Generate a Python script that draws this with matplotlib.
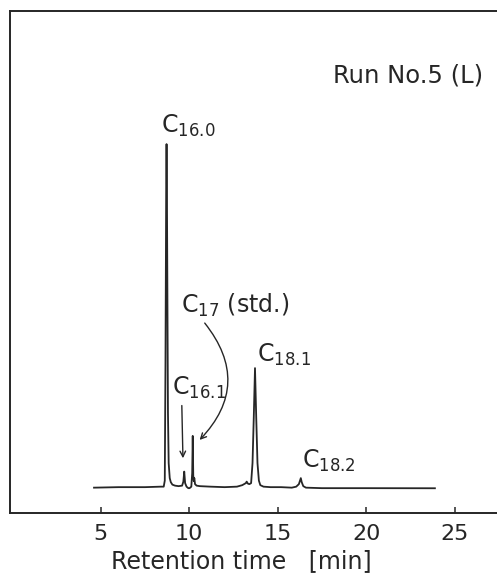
import matplotlib
matplotlib.use("Agg")
import matplotlib.pyplot as plt

# chromatogram trace (time in min, detector signal in arbitrary units)
ret_time = [4.62, 6.0, 7.5, 8.40, 8.56, 8.62, 8.66, 8.70, 8.72, 8.74, 8.77, 8.80, 8.84,
            8.90, 8.96, 9.05, 9.20, 9.40, 9.60, 9.67, 9.72, 9.77, 9.85, 9.95, 10.02,
            10.12, 10.17, 10.20, 10.23, 10.26, 10.29, 10.33, 10.42, 10.6, 11.2, 12.0,
            12.7, 13.0, 13.20, 13.25, 13.32, 13.40, 13.50, 13.58, 13.65, 13.72, 13.79,
            13.86, 13.94, 14.02, 14.20, 14.6, 15.2, 15.8, 16.05, 16.20, 16.31, 16.36,
            16.45, 16.6, 17.5, 20.0, 23.89]
signal = [5.1, 5.2, 5.2, 5.3, 5.3, 6.5, 30.0, 65.0, 73.5, 65.0, 42.0, 20.0, 10.0,
          7.0, 6.2, 5.7, 5.5, 5.4, 5.5, 6.3, 8.3, 6.0, 5.3, 5.0, 5.0,
          5.3, 8.0, 15.4, 7.5, 6.4, 7.0, 5.8, 5.5, 5.4, 5.3, 5.2,
          5.3, 5.6, 6.0, 6.3, 5.9, 5.8, 6.0, 10.0, 19.0, 28.9, 19.0,
          10.0, 6.5, 5.6, 5.3, 5.2, 5.2, 5.1, 5.3, 5.8, 7.0, 6.2,
          5.4, 5.1, 5.0, 5.0, 4.98]

tick_vals = [5, 10, 15, 20, 25]

# peak labels: (text, x, y) at left/baseline of the label
peak_labels = [r"C$_\mathregular{16.0}$", r"C$_\mathregular{17}$ (std.)",
               r"C$_\mathregular{16.1}$", r"C$_\mathregular{18.1}$", r"C$_\mathregular{18.2}$"]
label_x = [8.40, 9.55, 9.05, 13.86, 16.40]
label_y = [75.7, 39.9, 23.6, 30.1, 9.0]

ink = "#262626"

fig = plt.figure(figsize=(4.97, 5.76), dpi=100)
ax = fig.add_axes([0.0201, 0.1089, 0.9799, 0.8720])

ax.plot(ret_time, signal, color=ink, lw=1.3)

ax.set_xlim(-0.13, 27.4)
ax.set_ylim(0, 100)

for side in ["left", "top", "bottom"]:
    ax.spines[side].set_linewidth(1.4)
    ax.spines[side].set_color(ink)
ax.spines["right"].set_visible(False)

ax.set_xticks(tick_vals)
ax.set_yticks([])
ax.tick_params(axis="x", direction="in", length=4, width=1.1, color=ink,
               labelsize=16, labelcolor=ink, pad=8)

for txt, x, y in zip(peak_labels, label_x, label_y):
    ax.text(x, y, txt, fontsize=17, color=ink, ha="left", va="baseline")

ax.text(18.13, 85.7, "Run No.5 (L)", fontsize=17.5, color=ink, ha="left", va="baseline")

# arrows pointing at the small peaks
ax.annotate("", xy=(9.65, 10.4), xytext=(9.58, 22.0),
            arrowprops=dict(arrowstyle="->", color=ink, lw=1.0))
ax.annotate("", xy=(10.48, 14.2), xytext=(10.78, 38.3),
            arrowprops=dict(arrowstyle="->", color=ink, lw=1.0,
                            connectionstyle="arc3,rad=-0.45"))

fig.text(241 / 497, 8 / 576, "Retention time   [min]", fontsize=17, color=ink,
         ha="center", va="baseline")

fig.savefig("out.png", dpi=100)
